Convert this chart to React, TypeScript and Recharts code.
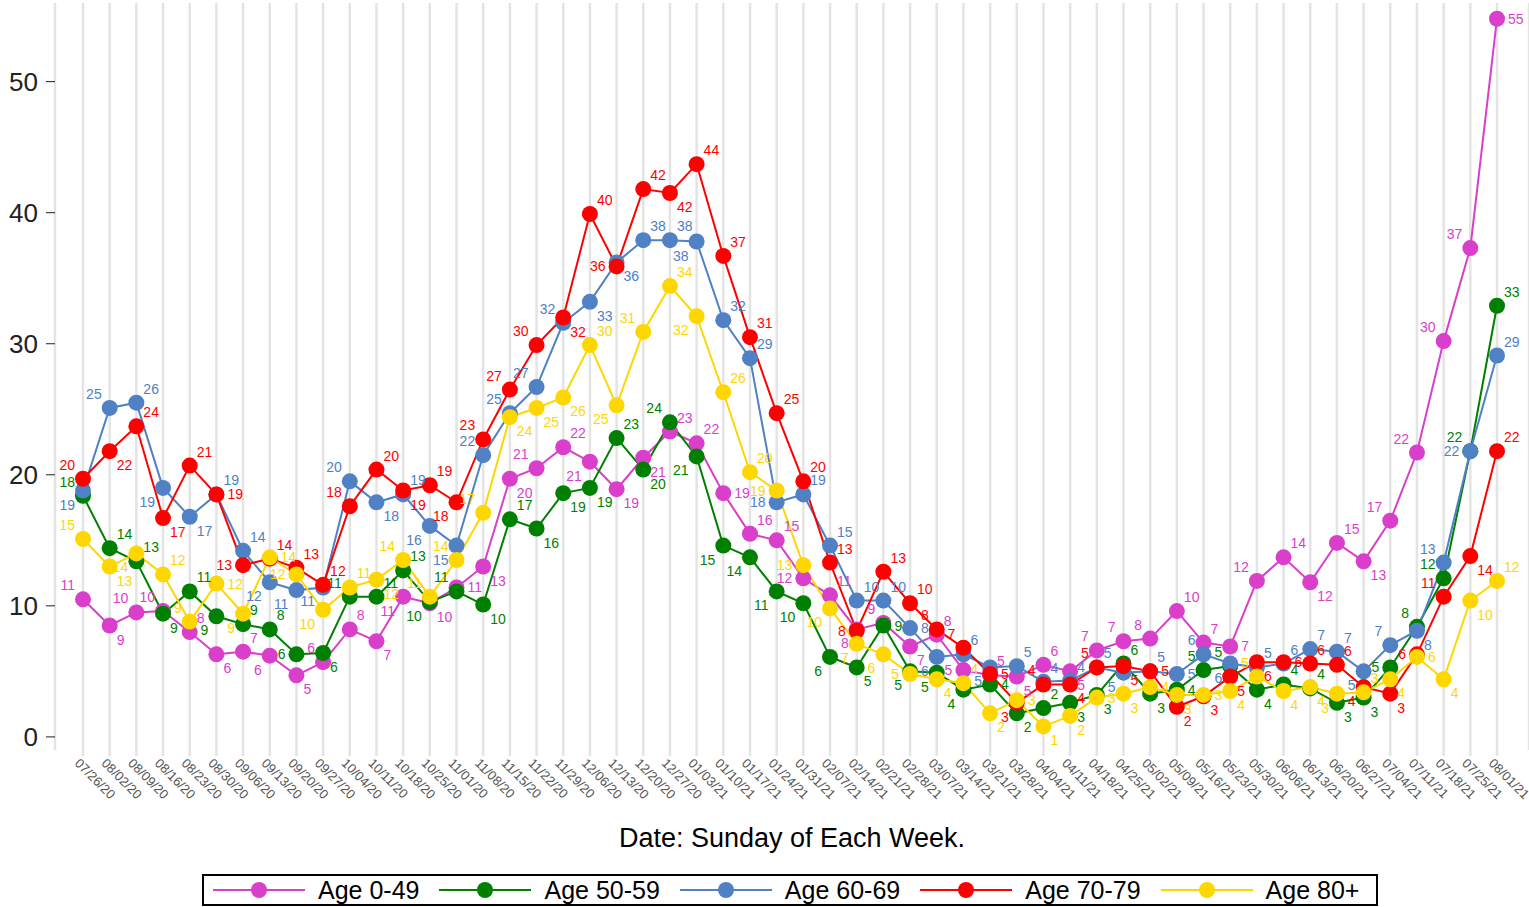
import React from "react";
import { LineChart, Line, XAxis, YAxis, CartesianGrid, Legend, LabelList } from "recharts";

const weeks = [
  "07/26/20", "08/02/20", "08/09/20", "08/16/20", "08/23/20", "08/30/20", "09/06/20", "09/13/20", "09/20/20", "09/27/20",
  "10/04/20", "10/11/20", "10/18/20", "10/25/20", "11/01/20", "11/08/20", "11/15/20", "11/22/20", "11/29/20", "12/06/20",
  "12/13/20", "12/20/20", "12/27/20", "01/03/21", "01/10/21", "01/17/21", "01/24/21", "01/31/21", "02/07/21", "02/14/21",
  "02/21/21", "02/28/21", "03/07/21", "03/14/21", "03/21/21", "03/28/21", "04/04/21", "04/11/21", "04/18/21", "04/25/21",
  "05/02/21", "05/09/21", "05/16/21", "05/23/21", "05/30/21", "06/06/21", "06/13/21", "06/20/21", "06/27/21", "07/04/21",
  "07/11/21", "07/18/21", "07/25/21", "08/01/21",
];

const age0to49 = [
  10.5, 8.5, 9.5, 9.6, 8.0, 6.3, 6.5, 6.2, 4.7, 5.7,
  8.2, 7.3, 10.7, 10.2, 11.4, 13.0, 19.7, 20.5, 22.1, 21.0,
  18.9, 21.3, 23.3, 22.4, 18.6, 15.5, 15.0, 12.1, 10.8, 8.2,
  8.7, 6.9, 7.8, 5.1, 4.7, 4.6, 5.5, 5.0, 6.6, 7.3,
  7.5, 9.6, 7.2, 6.9, 11.9, 13.7, 11.8, 14.8, 13.4, 16.5,
  21.7, 30.2, 37.3, 54.8,
];
const age50to59 = [
  18.4, 14.4, 13.4, 9.4, 11.1, 9.2, 8.6, 8.2, 6.3, 6.4,
  10.7, 10.7, 12.7, 10.3, 11.1, 10.1, 16.6, 15.9, 18.6, 19.0,
  22.8, 20.4, 24.0, 21.4, 14.6, 13.7, 11.1, 10.2, 6.1, 5.3,
  8.5, 5.0, 4.9, 3.6, 4.0, 1.8, 2.2, 2.6, 3.2, 5.6,
  3.3, 3.6, 5.1, 5.4, 3.6, 4.0, 3.7, 2.6, 3.0, 5.3,
  8.4, 12.1, 21.8, 32.9,
];
const age60to69 = [
  18.8, 25.1, 25.5, 19.0, 16.8, 18.5, 14.2, 11.8, 11.2, 11.4,
  19.5, 17.9, 18.5, 16.1, 14.6, 21.5, 24.7, 26.7, 31.6, 33.2,
  36.2, 37.9, 37.9, 37.8, 31.8, 28.9, 17.9, 18.5, 14.6, 10.4,
  10.4, 8.3, 6.1, 6.3, 5.3, 5.4, 4.2, 4.3, 5.3, 4.9,
  5.0, 4.8, 6.3, 5.6, 5.3, 5.6, 6.7, 6.5, 5.0, 7.0,
  8.1, 13.3, 21.8, 29.1,
];
const age70to79 = [
  19.7, 21.8, 23.7, 16.7, 20.7, 18.5, 13.1, 13.6, 12.9, 11.6,
  17.6, 20.4, 18.8, 19.2, 17.9, 22.7, 26.5, 29.9, 32.0, 39.9,
  35.9, 41.8, 41.5, 43.7, 36.7, 30.5, 24.7, 19.5, 13.3, 8.1,
  12.6, 10.2, 8.2, 6.8, 4.8, 2.6, 4.0, 4.0, 5.3, 5.4,
  5.0, 2.3, 3.1, 4.6, 5.7, 5.7, 5.6, 5.5, 3.8, 3.3,
  6.3, 10.7, 13.8, 21.8,
];
const age80plus = [
  15.1, 13.0, 14.0, 12.4, 8.8, 11.7, 9.4, 13.7, 12.4, 9.7,
  11.4, 12.0, 13.5, 10.7, 13.5, 17.1, 24.4, 25.1, 25.9, 29.9,
  25.3, 30.9, 34.4, 32.1, 26.3, 20.2, 18.8, 13.1, 9.8, 7.1,
  6.3, 4.8, 4.4, 4.1, 1.8, 2.8, 0.8, 1.6, 3.0, 3.3,
  3.8, 3.2, 3.2, 3.5, 4.6, 3.5, 3.8, 3.3, 3.4, 4.4,
  6.1, 4.4, 10.4, 11.9,
];

const yTicks = [0, 10, 20, 30, 40, 50];

const series = [
  { key: "a0", name: "Age 0-49", color: "#D93FCB", values: age0to49 },
  { key: "a50", name: "Age 50-59", color: "#008000", values: age50to59 },
  { key: "a60", name: "Age 60-69", color: "#4F81C4", values: age60to69 },
  { key: "a70", name: "Age 70-79", color: "#FF0000", values: age70to79 },
  { key: "a80", name: "Age 80+", color: "#FFD700", values: age80plus },
];

const data = weeks.map((w, i) => ({
  week: w,
  a0: age0to49[i],
  a50: age50to59[i],
  a60: age60to69[i],
  a70: age70to79[i],
  a80: age80plus[i],
}));

const FONT = "Arial, 'Liberation Sans', Helvetica, sans-serif";

// ---- value label placement (greedy, avoids other labels / markers / lines) ----
// approximate pixel geometry of the plot, only used to pick a side for each label
const PLOT_X0 = 83;
const PLOT_X1 = 1497;
const PLOT_BOTTOM = 750;
const PLOT_H = 747;
const Y_MIN = -1;
const Y_MAX = 56;
const px = (i: number) => PLOT_X0 + (i * (PLOT_X1 - PLOT_X0)) / (weeks.length - 1);
const py = (v: number) => PLOT_BOTTOM - ((v - Y_MIN) / (Y_MAX - Y_MIN)) * PLOT_H;

type Spot = { dx: number; dy: number; anchor: "start" | "end" };
const SPOTS: Record<string, Spot> = {
  AR: { dx: 7, dy: -9, anchor: "start" },
  BR: { dx: 7, dy: 19, anchor: "start" },
  AL: { dx: -8, dy: -9, anchor: "end" },
  BL: { dx: -8, dy: 19, anchor: "end" },
  R: { dx: 11, dy: 5, anchor: "start" },
  L: { dx: -11, dy: 5, anchor: "end" },
};

function boxOf(x: number, y: number, s: Spot, text: string) {
  const w = text.length * 7.8;
  const x0 = s.anchor === "start" ? x + s.dx : x + s.dx - w;
  return { x0, x1: x0 + w, y0: y + s.dy - 10.5, y1: y + s.dy };
}

function overlap(a: any, b: any) {
  const w = Math.min(a.x1, b.x1) - Math.max(a.x0, b.x0);
  const h = Math.min(a.y1, b.y1) - Math.max(a.y0, b.y0);
  return w > 0 && h > 0 ? w * h : 0;
}

const placements: Record<string, Spot[]> = (() => {
  const markers: any[] = [];
  const linePts: { x: number; y: number }[] = [];
  series.forEach((s) => {
    s.values.forEach((v, i) => {
      markers.push({ x0: px(i) - 8, x1: px(i) + 8, y0: py(v) - 8, y1: py(v) + 8 });
      if (i > 0) {
        for (let k = 1; k < 12; k++) {
          const t = k / 12;
          linePts.push({
            x: px(i - 1) + (px(i) - px(i - 1)) * t,
            y: py(s.values[i - 1]) + (py(v) - py(s.values[i - 1])) * t,
          });
        }
      }
    });
  });
  const placed: any[] = [];
  const out: Record<string, Spot[]> = {};
  series.forEach((s) => {
    out[s.key] = s.values.map((v, i) => {
      const vals = s.values;
      const prev = i > 0 ? vals[i - 1] : v;
      const next = i < vals.length - 1 ? vals[i + 1] : v;
      let order: string[];
      if (i === 0) order = ["AL", "L", "BL", "AR", "BR"];
      else if (i === vals.length - 1) order = ["AR", "R", "BR", "AL", "BL"];
      else if (v >= prev && v >= next) order = ["AR", "AL", "R", "L", "BR", "BL"];
      else if (v <= prev && v <= next) order = ["BR", "BL", "R", "L", "AR", "AL"];
      else if (next > v) order = ["AL", "BR", "L", "R", "AR", "BL"];
      else order = ["AR", "BL", "R", "L", "AL", "BR"];
      const text = String(Math.round(v));
      const x = px(i);
      const y = py(v);
      let best = order[0];
      let bestScore = Infinity;
      order.forEach((key, rank) => {
        const b = boxOf(x, y, SPOTS[key], text);
        let score = rank * 6;
        if (b.y0 < 2) score += 1000;
        if (b.x1 > 1527) score += 1000;
        placed.forEach((p) => (score += overlap(b, p) * 6));
        markers.forEach((m) => (score += overlap(b, m) * 0.6));
        linePts.forEach((p) => {
          if (p.x > b.x0 && p.x < b.x1 && p.y > b.y0 && p.y < b.y1) score += 8;
        });
        if (score < bestScore) {
          bestScore = score;
          best = key;
        }
      });
      placed.push(boxOf(x, y, SPOTS[best], text));
      return SPOTS[best];
    });
  });
  return out;
})();

function makeLabel(key: string, values: number[], color: string) {
  return (props: any) => {
    const x = props.x ?? props.viewBox?.x;
    const y = props.y ?? props.viewBox?.y;
    const index = props.index;
    if (x == null || y == null || index == null) return null;
    const spot = placements[key][index];
    return (
      <text
        x={x + spot.dx}
        y={y + spot.dy}
        fill={color}
        fontSize={14}
        fontFamily={FONT}
        textAnchor={spot.anchor}
      >
        {Math.round(values[index])}
      </text>
    );
  };
}

function DateTick(props: any) {
  const { x, y, payload } = props;
  return (
    <text
      transform={`translate(${x - 9},${y + 6}) rotate(45)`}
      fontSize={13}
      fontFamily={FONT}
      fill="#555"
      textAnchor="start"
    >
      {payload.value}
    </text>
  );
}

function LegendBox() {
  return (
    <div
      style={{
        width: 1176,
        height: 32,
        boxSizing: "border-box",
        border: "2px solid #000",
        display: "flex",
        alignItems: "center",
        paddingLeft: 9,
        fontFamily: FONT,
        background: "#fff",
        overflow: "hidden",
      }}
    >
      {series.map((s) => (
        <div
          key={s.key}
          style={{ display: "flex", alignItems: "center", marginRight: 20, flexShrink: 0, whiteSpace: "nowrap" }}
        >
          <svg width={92} height={20} style={{ flexShrink: 0 }}>
            <line x1={0} y1={10} x2={92} y2={10} stroke={s.color} strokeWidth={2} />
            <circle cx={46} cy={10} r={8} fill={s.color} />
          </svg>
          <span style={{ fontSize: 25, marginLeft: 13, color: "#000", lineHeight: "28px" }}>{s.name}</span>
        </div>
      ))}
    </div>
  );
}

export default function App() {
  return (
    <div style={{ position: "absolute", left: 0, top: 0, width: 1529, height: 907, background: "#fff" }}>
      <LineChart width={1529} height={907} data={data} margin={{ top: 3, right: 0, left: 0, bottom: 50 }}>
        <CartesianGrid horizontal={false} stroke="#e4e4e4" strokeWidth={2.5} />
        <XAxis
          dataKey="week"
          interval={0}
          padding={{ left: 28, right: 32 }}
          axisLine={false}
          tickLine={{ stroke: "#e4e4e4", strokeWidth: 2.5 }}
          tickSize={6}
          height={75}
          tick={<DateTick />}
          label={{
            value: "Date: Sunday of Each Week.",
            position: "bottom",
            offset: 3,
            fill: "#000",
            fontSize: 27,
            fontFamily: FONT,
          }}
        />
        <YAxis
          domain={[Y_MIN, Y_MAX]}
          ticks={yTicks}
          width={55}
          axisLine={false}
          tickLine={{ stroke: "#222" }}
          tickSize={9}
          tickMargin={8}
          tick={{ fill: "#222", fontSize: 26, fontFamily: FONT }}
        />
        <Legend
          verticalAlign="bottom"
          content={<LegendBox />}
          wrapperStyle={{ left: 202, bottom: 1, width: 1176 }}
        />
        {series.map((s) => (
          <Line
            key={s.key}
            dataKey={s.key}
            name={s.name}
            stroke={s.color}
            strokeWidth={2}
            dot={{ r: 8, fill: s.color, stroke: s.color, strokeWidth: 0 }}
            activeDot={false}
            isAnimationActive={false}
          >
            <LabelList dataKey={s.key} content={makeLabel(s.key, s.values, s.color)} />
          </Line>
        ))}
      </LineChart>
    </div>
  );
}
